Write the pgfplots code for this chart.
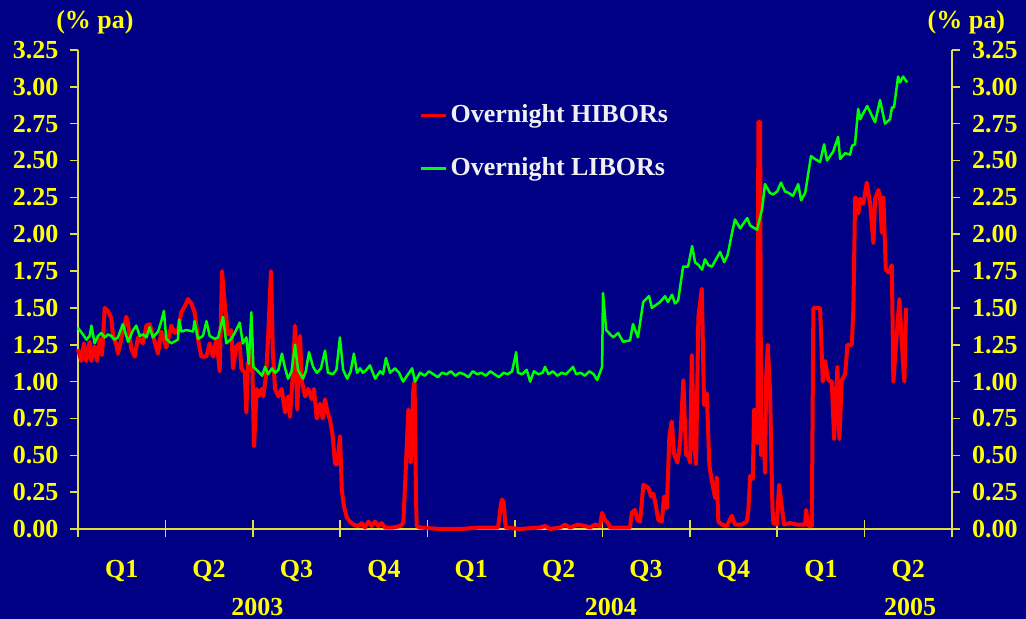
\documentclass[border=0pt]{standalone}
\usepackage{fontspec}
\setmainfont{Liberation Serif}
\usepackage{pgfplots}
\pgfplotsset{compat=1.18}
\usetikzlibrary{calc,backgrounds}

\definecolor{bgblue}{RGB}{0,0,132}
\definecolor{tickyellow}{RGB}{255,255,0}
\definecolor{axisyellow}{RGB}{222,222,60}
\definecolor{hibor}{RGB}{255,0,0}
\definecolor{libor}{RGB}{0,255,0}
\definecolor{legendtext}{RGB}{240,240,240}
\newcommand{\lf}{\fontsize{13}{15}\selectfont\bfseries}
\tikzset{qlab/.style={anchor=base, text=tickyellow, font=\lf, inner sep=0pt}}

\begin{document}
\begin{tikzpicture}
\begin{axis}[
    name=main,
    at={(0,0)}, anchor=south west,
    scale only axis,
    width=437pt, height=239.5pt,
    xmin=0, xmax=30, ymin=0, ymax=3.25,
    axis x line*=bottom, axis y line*=left,
    axis line style={-, draw=axisyellow, line width=1pt},
    clip=false,
    xtick=\empty,
    minor xtick={0,1,...,30},
    minor tick length=3pt,
    xtick align=outside,
    extra x ticks={0,3,...,30},
    extra x tick labels={},
    extra x tick style={major tick length=8.5pt, xtick align=center},
    every tick/.style={draw=axisyellow, line width=0.8pt},
    ytick={0,0.25,0.5,0.75,1,1.25,1.5,1.75,2,2.25,2.5,2.75,3,3.25},
    ytick align=outside,
    major tick length=4pt,
    yticklabel style={text=tickyellow, font=\lf, xshift=-2.3pt,
        /pgf/number format/.cd, fixed, fixed zerofill, precision=2, assume math mode=true},
    legend style={at={(axis cs:11.71,2.902)}, anchor=north west, draw=none, fill=none,
        inner sep=0pt, row sep=13pt, font=\lf,
        nodes={inner sep=1.5pt, text=legendtext}},
    legend cell align=left,
    legend image code/.code={\draw[#1, line width=1.5pt] (0pt,0pt) -- (12.5pt,0pt);},
]

\addplot[hibor, line width=2pt, line join=round] coordinates {
(0.000,1.22)(0.113,1.14)(0.206,1.26)(0.285,1.14)(0.402,1.27)(0.457,1.14)(0.573,1.24)(0.652,1.14)(0.745,1.29)(0.824,1.18)
(0.917,1.50)(1.030,1.48)(1.143,1.43)(1.201,1.31)(1.315,1.25)(1.373,1.19)(1.486,1.29)(1.658,1.44)(1.716,1.40)(1.830,1.22)
(1.946,1.17)(2.060,1.30)(2.231,1.26)(2.345,1.38)(2.461,1.39)(2.575,1.31)(2.746,1.19)(2.860,1.34)(3.031,1.23)(3.203,1.38)
(3.320,1.33)(3.433,1.35)(3.546,1.47)(3.663,1.51)(3.776,1.56)(3.889,1.53)(4.006,1.47)(4.119,1.29)(4.233,1.17)(4.404,1.17)
(4.521,1.26)(4.634,1.17)(4.748,1.29)(4.864,1.07)(4.943,1.75)(5.036,1.53)(5.149,1.32)(5.263,1.35)(5.321,1.09)(5.434,1.24)
(5.551,1.26)(5.606,1.09)(5.723,1.06)(5.778,0.79)(5.836,1.13)(5.905,1.08)(5.963,1.31)(6.042,0.56)(6.135,0.95)(6.190,0.90)
(6.306,0.95)(6.361,0.90)(6.454,1.04)(6.533,1.33)(6.625,1.75)(6.684,1.22)(6.763,0.95)(6.876,0.90)(6.993,0.95)(7.106,0.79)
(7.219,0.90)(7.278,0.76)(7.370,1.04)(7.449,1.38)(7.528,0.81)(7.621,1.31)(7.679,1.01)(7.793,0.90)(7.906,0.95)(8.023,0.88)
(8.102,0.95)(8.194,0.75)(8.308,0.85)(8.400,0.75)(8.479,0.88)(8.558,0.80)(8.651,0.74)(8.743,0.63)(8.823,0.44)(8.902,0.44)
(8.994,0.63)(9.053,0.27)(9.132,0.15)(9.224,0.08)(9.337,0.05)(9.451,0.03)(9.622,0.02)(9.739,0.04)(9.852,0.01)(9.966,0.05)
(10.082,0.02)(10.196,0.05)(10.309,0.02)(10.426,0.04)(10.539,0.01)(10.824,0.01)(11.054,0.02)(11.167,0.04)(11.260,0.45)(11.339,0.81)
(11.421,0.45)(11.510,0.95)(11.552,1.00)(11.603,0.20)(11.627,0.02)(11.740,0.01)(12.427,0.00)(13.114,0.00)(13.800,0.01)(14.418,0.01)
(14.520,0.17)(14.555,0.20)(14.610,0.18)(14.680,0.01)(15.173,0.00)(15.860,0.01)(16.032,0.02)(16.203,0.00)(16.546,0.01)(16.718,0.03)
(16.890,0.01)(17.164,0.03)(17.405,0.02)(17.576,0.01)(17.748,0.03)(17.920,0.02)(17.988,0.11)(18.091,0.06)(18.194,0.04)(18.263,0.01)
(18.949,0.01)(19.008,0.11)(19.121,0.13)(19.200,0.06)(19.293,0.05)(19.406,0.30)(19.578,0.28)(19.670,0.22)(19.749,0.24)(19.842,0.15)
(19.921,0.06)(20.038,0.05)(20.117,0.22)(20.209,0.14)(20.299,0.63)(20.381,0.73)(20.460,0.51)(20.573,0.45)(20.666,0.58)(20.779,1.01)
(20.872,0.50)(20.951,0.50)(21.009,0.45)(21.068,1.18)(21.147,0.58)(21.215,0.44)(21.294,1.44)(21.411,1.63)(21.490,0.84)(21.583,0.92)
(21.672,0.43)(21.754,0.33)(21.868,0.21)(21.926,0.35)(21.981,0.05)(22.098,0.03)(22.269,0.02)(22.441,0.09)(22.554,0.03)(22.784,0.03)
(22.956,0.05)(23.011,0.13)(23.069,0.36)(23.162,0.34)(23.207,0.81)(23.275,0.79)(23.320,0.58)(23.354,2.76)(23.413,2.76)(23.447,0.50)
(23.505,0.74)(23.584,0.38)(23.619,1.02)(23.677,1.25)(23.756,0.92)(23.835,0.15)(23.869,0.04)(23.986,0.03)(24.065,0.30)(24.157,0.15)
(24.236,0.03)(24.442,0.04)(24.672,0.03)(24.957,0.03)(24.991,0.13)(25.070,0.02)(25.187,0.02)(25.242,1.50)(25.472,1.50)(25.564,1.00)
(25.644,1.14)(25.757,1.01)(25.874,1.00)(25.953,0.61)(26.066,1.10)(26.135,0.61)(26.217,1.01)(26.331,1.05)(26.410,1.25)(26.561,1.25)
(26.615,1.50)(26.674,2.25)(26.732,2.23)(26.787,2.14)(26.845,2.24)(26.958,2.21)(27.075,2.35)(27.188,2.21)(27.302,1.94)(27.360,2.24)
(27.473,2.30)(27.532,2.25)(27.590,2.01)(27.645,2.25)(27.727,1.76)(27.841,1.74)(27.933,1.79)(27.988,1.00)(28.081,1.26)(28.194,1.56)
(28.310,1.15)(28.366,1.00)(28.424,1.50)
};
\addlegendentry{Overnight HIBORs}

\addplot[libor, line width=1.25pt, line join=round] coordinates {
(0.00,1.365)(0.17,1.32)(0.29,1.285)(0.40,1.31)(0.46,1.38)(0.57,1.26)(0.69,1.31)(0.80,1.33)(0.92,1.30)(1.03,1.32)
(1.14,1.31)(1.26,1.285)(1.37,1.30)(1.54,1.39)(1.72,1.27)(1.89,1.35)(2.00,1.38)(2.12,1.31)(2.23,1.32)(2.35,1.30)
(2.46,1.37)(2.57,1.30)(2.75,1.34)(2.86,1.41)(2.95,1.48)(3.03,1.29)(3.20,1.26)(3.43,1.285)(3.47,1.42)(3.55,1.34)
(3.72,1.35)(3.95,1.34)(4.00,1.41)(4.12,1.29)(4.29,1.31)(4.41,1.41)(4.52,1.31)(4.69,1.29)(4.81,1.30)(4.98,1.44)
(5.09,1.26)(5.26,1.29)(5.38,1.33)(5.55,1.40)(5.66,1.26)(5.78,1.30)(5.86,1.12)(5.95,1.47)(6.02,1.10)(6.18,1.07)
(6.32,1.04)(6.42,1.10)(6.52,1.05)(6.66,1.09)(6.76,1.06)(6.88,1.08)(7.00,1.19)(7.11,1.09)(7.21,1.02)(7.33,1.07)
(7.45,1.25)(7.55,1.08)(7.72,1.02)(7.82,1.07)(7.93,1.20)(8.07,1.10)(8.20,1.06)(8.34,1.09)(8.48,1.21)(8.58,1.06)
(8.75,1.05)(8.87,1.08)(8.99,1.30)(9.10,1.08)(9.24,1.02)(9.36,1.07)(9.47,1.19)(9.58,1.06)(9.68,1.09)(9.78,1.06)
(9.90,1.08)(10.02,1.11)(10.20,1.02)(10.37,1.07)(10.47,1.05)(10.57,1.16)(10.71,1.06)(10.88,1.09)(11.02,1.06)(11.16,1.00)
(11.33,1.05)(11.47,1.09)(11.57,1.00)(11.74,1.06)(11.90,1.04)(12.05,1.07)(12.20,1.05)(12.35,1.03)(12.50,1.06)(12.65,1.05)
(12.80,1.07)(12.95,1.04)(13.10,1.06)(13.25,1.05)(13.40,1.03)(13.55,1.07)(13.70,1.05)(13.85,1.06)(14.00,1.04)(14.15,1.07)
(14.30,1.05)(14.45,1.03)(14.60,1.06)(14.75,1.05)(14.90,1.07)(15.04,1.20)(15.10,1.06)(15.25,1.05)(15.40,1.08)(15.52,1.00)
(15.65,1.07)(15.80,1.05)(15.95,1.06)(16.03,1.10)(16.15,1.05)(16.30,1.07)(16.45,1.04)(16.60,1.06)(16.75,1.05)(16.90,1.08)
(16.99,1.10)(17.10,1.05)(17.25,1.06)(17.40,1.04)(17.55,1.07)(17.70,1.05)(17.82,1.01)(17.99,1.10)(18.02,1.60)(18.13,1.35)
(18.37,1.30)(18.54,1.33)(18.71,1.27)(18.95,1.28)(19.05,1.39)(19.22,1.30)(19.40,1.54)(19.60,1.58)(19.70,1.50)(19.98,1.54)
(20.15,1.58)(20.25,1.54)(20.39,1.59)(20.49,1.53)(20.60,1.55)(20.77,1.78)(20.94,1.78)(21.08,1.92)(21.18,1.81)(21.30,1.79)
(21.42,1.76)(21.52,1.83)(21.64,1.79)(21.76,1.78)(22.04,1.88)(22.18,1.81)(22.30,1.86)(22.45,2.01)(22.55,2.10)(22.73,2.04)
(22.97,2.11)(23.07,2.06)(23.31,2.03)(23.48,2.17)(23.58,2.34)(23.75,2.28)(23.86,2.27)(24.00,2.29)(24.13,2.35)(24.27,2.29)
(24.40,2.28)(24.54,2.26)(24.72,2.34)(24.82,2.23)(24.96,2.28)(25.16,2.53)(25.30,2.51)(25.47,2.49)(25.61,2.61)(25.71,2.50)
(25.92,2.56)(26.09,2.66)(26.16,2.51)(26.33,2.55)(26.50,2.54)(26.57,2.60)(26.67,2.61)(26.78,2.85)(26.85,2.78)(26.95,2.82)
(27.09,2.87)(27.26,2.80)(27.36,2.76)(27.53,2.91)(27.70,2.75)(27.87,2.78)(27.94,2.86)(28.01,2.86)(28.15,3.07)(28.22,3.03)
(28.32,3.07)(28.46,3.03)
};
\addlegendentry{Overnight LIBORs}

\node[qlab] at (axis cs:1.5,-0.3265) {Q1};
\node[qlab] at (axis cs:4.5,-0.3265) {Q2};
\node[qlab] at (axis cs:7.5,-0.3265) {Q3};
\node[qlab] at (axis cs:10.5,-0.3265) {Q4};
\node[qlab] at (axis cs:13.5,-0.3265) {Q1};
\node[qlab] at (axis cs:16.5,-0.3265) {Q2};
\node[qlab] at (axis cs:19.5,-0.3265) {Q3};
\node[qlab] at (axis cs:22.5,-0.3265) {Q4};
\node[qlab] at (axis cs:25.5,-0.3265) {Q1};
\node[qlab] at (axis cs:28.5,-0.3265) {Q2};
\node[qlab] at (axis cs:6.16,-0.584) {2003};
\node[qlab] at (axis cs:18.29,-0.584) {2004};
\node[qlab] at (axis cs:28.56,-0.584) {2005};
\node[qlab, anchor=center] at (axis cs:0.58,3.44) {(\% pa)};
\node[qlab, anchor=center] at (axis cs:30.49,3.44) {(\% pa)};
\end{axis}

\begin{axis}[
    at={(main.south west)}, anchor=south west,
    scale only axis,
    width=437pt, height=239.5pt,
    xmin=0, xmax=30, ymin=0, ymax=3.25,
    axis x line=none, axis y line*=right,
    axis line style={-, draw=axisyellow, line width=1pt},
    every tick/.style={draw=axisyellow, line width=0.8pt},
    ytick={0,0.25,0.5,0.75,1,1.25,1.5,1.75,2,2.25,2.5,2.75,3,3.25},
    ytick align=outside,
    major tick length=4pt,
    yticklabel style={text=tickyellow, font=\lf, xshift=2.5pt,
        /pgf/number format/.cd, fixed, fixed zerofill, precision=2, assume math mode=true},
]
\addplot[draw=none] coordinates {(0,0)(30,3.25)};
\end{axis}

\begin{scope}[on background layer]
\fill[bgblue] ($(main.south west)+(-39pt,-45pt)$) rectangle ($(main.south west)+(474pt,264.5pt)$);
\end{scope}
\pgfresetboundingbox
\path[use as bounding box] ($(main.south west)+(-39pt,-45pt)$) rectangle ($(main.south west)+(474pt,264.5pt)$);
\end{tikzpicture}
\end{document}
